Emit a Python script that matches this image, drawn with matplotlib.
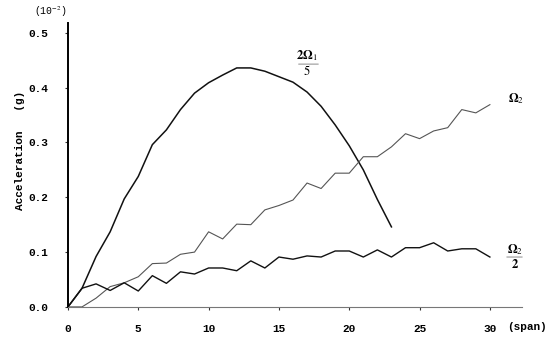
import matplotlib
matplotlib.use("Agg")
from matplotlib import pyplot as plt

plt.rcParams["mathtext.fontset"] = "stix"

# Distancia recorrida en vanos
vanos = list(range(0, 31))

# Aceleraciones (x 10^-2 g)
acel_2w1_5 = [0.0, 0.034, 0.092, 0.137, 0.197, 0.238, 0.296, 0.323, 0.360, 0.390,
              0.409, 0.423, 0.436, 0.436, 0.430, 0.420, 0.410, 0.392, 0.366, 0.332,
              0.294, 0.250, 0.196, 0.146]
acel_w2 = [0.0, 0.0, 0.016, 0.037, 0.044, 0.055, 0.079, 0.080, 0.096, 0.100,
           0.137, 0.124, 0.151, 0.150, 0.177, 0.185, 0.195, 0.226, 0.216, 0.244,
           0.244, 0.274, 0.274, 0.292, 0.316, 0.307, 0.321, 0.327, 0.360, 0.354,
           0.369]
acel_w2_2 = [0.0, 0.034, 0.042, 0.030, 0.044, 0.029, 0.057, 0.043, 0.064, 0.060,
             0.071, 0.071, 0.066, 0.084, 0.071, 0.091, 0.087, 0.093, 0.091, 0.102,
             0.102, 0.091, 0.104, 0.091, 0.108, 0.108, 0.117, 0.102, 0.106, 0.106,
             0.091]

ticks_x = [0, 5, 10, 15, 20, 25, 30]
ticks_y = [0.0, 0.1, 0.2, 0.3, 0.4, 0.5]

mono = "Liberation Mono"

fig = plt.figure(figsize=(5.48, 3.38), dpi=100)
ax = fig.add_axes([0.124, 0.092, 0.829, 0.840])

ax.plot(vanos[:len(acel_2w1_5)], acel_2w1_5, color="#111111", lw=1.1)
ax.plot(vanos, acel_w2, color="#555555", lw=0.8)
ax.plot(vanos, acel_w2_2, color="#111111", lw=1.0)

ax.set_xlim(0, 32.3)
ax.set_ylim(0, 0.518)

ax.spines["top"].set_visible(False)
ax.spines["right"].set_visible(False)
ax.spines["left"].set_linewidth(1.4)
ax.spines["bottom"].set_color("#777777")
ax.spines["bottom"].set_linewidth(0.8)

ax.set_xticks(ticks_x)
ax.set_xticklabels([str(t) for t in ticks_x], family=mono, fontsize=8, fontweight="bold")
ax.set_yticks(ticks_y)
ax.set_yticklabels([f"{t:.1f}" for t in ticks_y], family=mono, fontsize=8, fontweight="bold")
ax.tick_params(axis="both", length=2.5, width=0.8, color="#333333")
ax.tick_params(axis="x", pad=10)
ax.tick_params(axis="y", pad=12)

ax.set_ylabel("Acceleration   (g)", family=mono, fontsize=8, fontweight="bold", labelpad=8)
ax.yaxis.set_label_coords(-0.095, 0.55)

# Unidades de los ejes
fig.text(0.092, 0.965, "(10$^{-2}$)", family=mono, fontsize=7, ha="center", va="center")
ax.text(31.2, -0.036, "(span)", family=mono, fontsize=8, fontweight="bold", ha="left", va="center",
        clip_on=False)

# Etiquetas de las curvas
ax.annotate("", xy=(16.2, 0.443), xytext=(18.0, 0.443),
            arrowprops=dict(arrowstyle="-", color="#777777", lw=0.6))
ax.text(17.0, 0.459, r"$\mathbf{2\Omega}_1$", fontsize=9, ha="center", va="center")
ax.text(17.0, 0.430, r"$5$", fontsize=9, ha="center", va="center")

ax.text(31.3, 0.380, r"$\mathbf{\Omega}_2$", fontsize=9, ha="left", va="center")

ax.annotate("", xy=(31.0, 0.091), xytext=(32.5, 0.091),
            arrowprops=dict(arrowstyle="-", color="#777777", lw=0.6))
ax.text(31.8, 0.104, r"$\mathbf{\Omega}_2$", fontsize=9, ha="center", va="center")
ax.text(31.8, 0.077, r"$\mathbf{2}$", fontsize=9, ha="center", va="center")

plt.savefig("out.png", dpi=100)
plt.close()
